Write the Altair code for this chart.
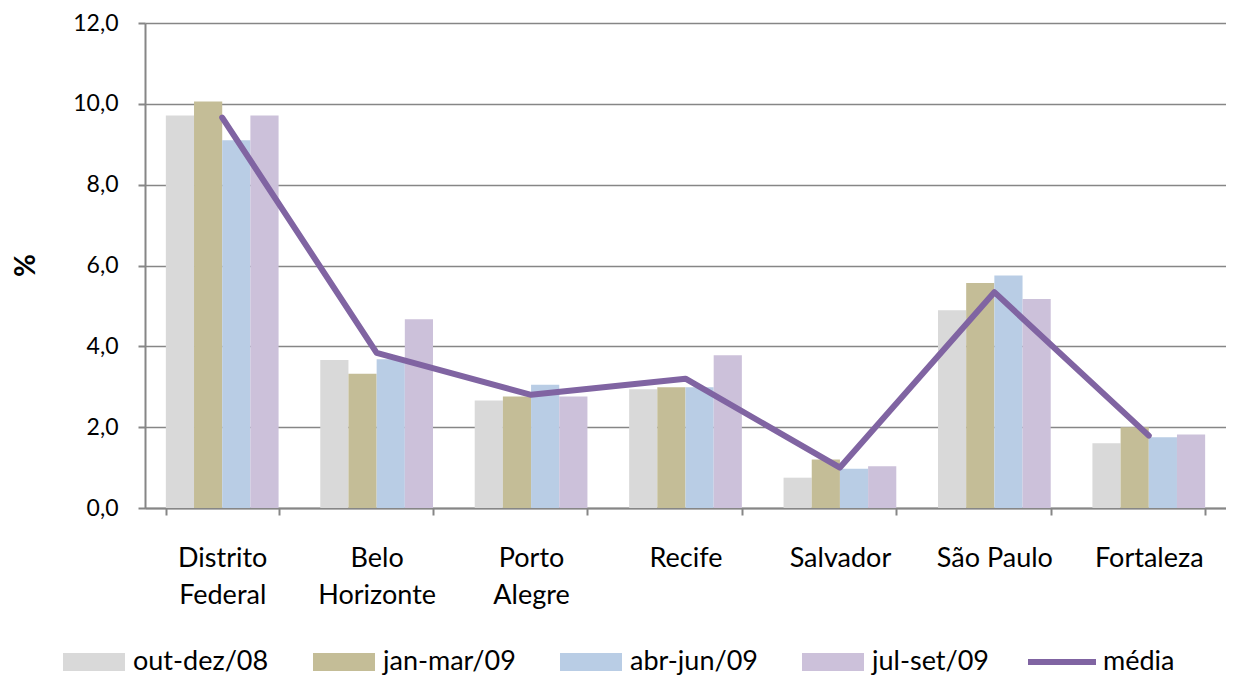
import altair as alt
import pandas as pd

cidades = ["Distrito Federal", "Belo Horizonte", "Porto Alegre", "Recife",
           "Salvador", "São Paulo", "Fortaleza"]
periodos = ["out-dez/08", "jan-mar/09", "abr-jun/09", "jul-set/09"]
out_dez_08 = [9.71, 3.66, 2.66, 2.94, 0.75, 4.89, 1.60]
jan_mar_09 = [10.06, 3.32, 2.76, 2.99, 1.20, 5.57, 2.00]
abr_jun_09 = [9.10, 3.68, 3.05, 2.99, 0.97, 5.75, 1.75]
jul_set_09 = [9.71, 4.67, 2.76, 3.78, 1.03, 5.17, 1.82]
media = [9.66, 3.84, 2.80, 3.20, 1.00, 5.34, 1.79]
cores = ["#D9D9D9", "#C4BD97", "#B9CDE5", "#CCC1DA"]
cor_media = "#8064A2"

series = [out_dez_08, jan_mar_09, abr_jun_09, jul_set_09]
rows = []
for p, vals in zip(periodos, series):
    for c, v in zip(cidades, vals):
        rows.append({"cidade": c, "periodo": p, "valor": v})
df_bars = pd.DataFrame(rows)
df_media = pd.DataFrame({"cidade": cidades, "valor": media, "serie": ["média"] * len(cidades)})

FONT = "Lato"
AXC = "#868686"

x_enc = alt.X(
    "cidade:N", sort=cidades,
    scale=alt.Scale(paddingInner=0.27, paddingOuter=0.135),
    axis=alt.Axis(
        title=None, labelAngle=0,
        labelExpr="datum.label == 'São Paulo' ? datum.label : split(datum.label, ' ')",
        labelFont=FONT, labelFontSize=27, labelColor="#000000",
        labelLineHeight=37, labelPadding=30,
        ticks=True, tickBand="extent", tickSize=7, tickColor=AXC, tickWidth=2,
        domainColor=AXC, domainWidth=2, grid=False,
    ),
)

y_enc = alt.Y(
    "valor:Q",
    scale=alt.Scale(domain=[0, 12], nice=False),
    axis=alt.Axis(
        values=[0, 2, 4, 6, 8, 10, 12],
        labelExpr="replace(format(datum.value, '.1f'), '.', ',')",
        labelFont=FONT, labelFontSize=23, labelColor="#000000", labelPadding=20,
        ticks=True, tickSize=7, tickColor=AXC, tickWidth=2,
        domainColor=AXC, domainWidth=2,
        grid=True, gridColor=AXC, gridWidth=1.5,
        title="%", titleFont=FONT, titleFontSize=28, titleFontWeight="bold",
        titleColor="#000000", titleAngle=270, titleX=-119, titleY=242,
        titleAlign="center", titleBaseline="middle",
    ),
)

bars = alt.Chart(df_bars).mark_bar().encode(
    x=x_enc,
    xOffset=alt.XOffset("periodo:N", sort=periodos,
                        scale=alt.Scale(paddingInner=0, paddingOuter=0)),
    y=y_enc,
    color=alt.Color(
        "periodo:N", sort=periodos,
        scale=alt.Scale(domain=periodos, range=cores),
        legend=alt.Legend(
            title=None, orient="none", direction="horizontal",
            legendX=-82, legendY=608,
            symbolType="M-1,-0.29H1V0.29H-1Z", symbolSize=3844,
            symbolStrokeWidth=0, symbolOpacity=1,
            labelFont=FONT, labelFontSize=27, labelColor="#000000",
            labelOffset=8, columnPadding=44, padding=0,
        ),
    ),
)

line = alt.Chart(df_media).mark_line(
    strokeWidth=6, strokeCap="round", strokeJoin="round"
).encode(
    x=alt.X("cidade:N", sort=cidades),
    y=alt.Y("valor:Q"),
    stroke=alt.Stroke(
        "serie:N",
        scale=alt.Scale(domain=["média"], range=[cor_media]),
        legend=alt.Legend(
            title=None, orient="none", direction="horizontal",
            legendX=880, legendY=602,
            symbolType="stroke", symbolSize=4624, symbolStrokeWidth=6,
            labelFont=FONT, labelFontSize=27, labelColor="#000000",
            labelOffset=4, padding=0,
        ),
    ),
)

chart = alt.layer(bars, line).properties(
    width=1081, height=485,
    autosize=alt.AutoSizeParams(type="none"),
    padding={"left": 137, "top": 15, "right": 0, "bottom": 171},
).configure_view(stroke=None).configure(background="white")

chart.save("out.html", embed_options={"renderer": "svg", "actions": False})
